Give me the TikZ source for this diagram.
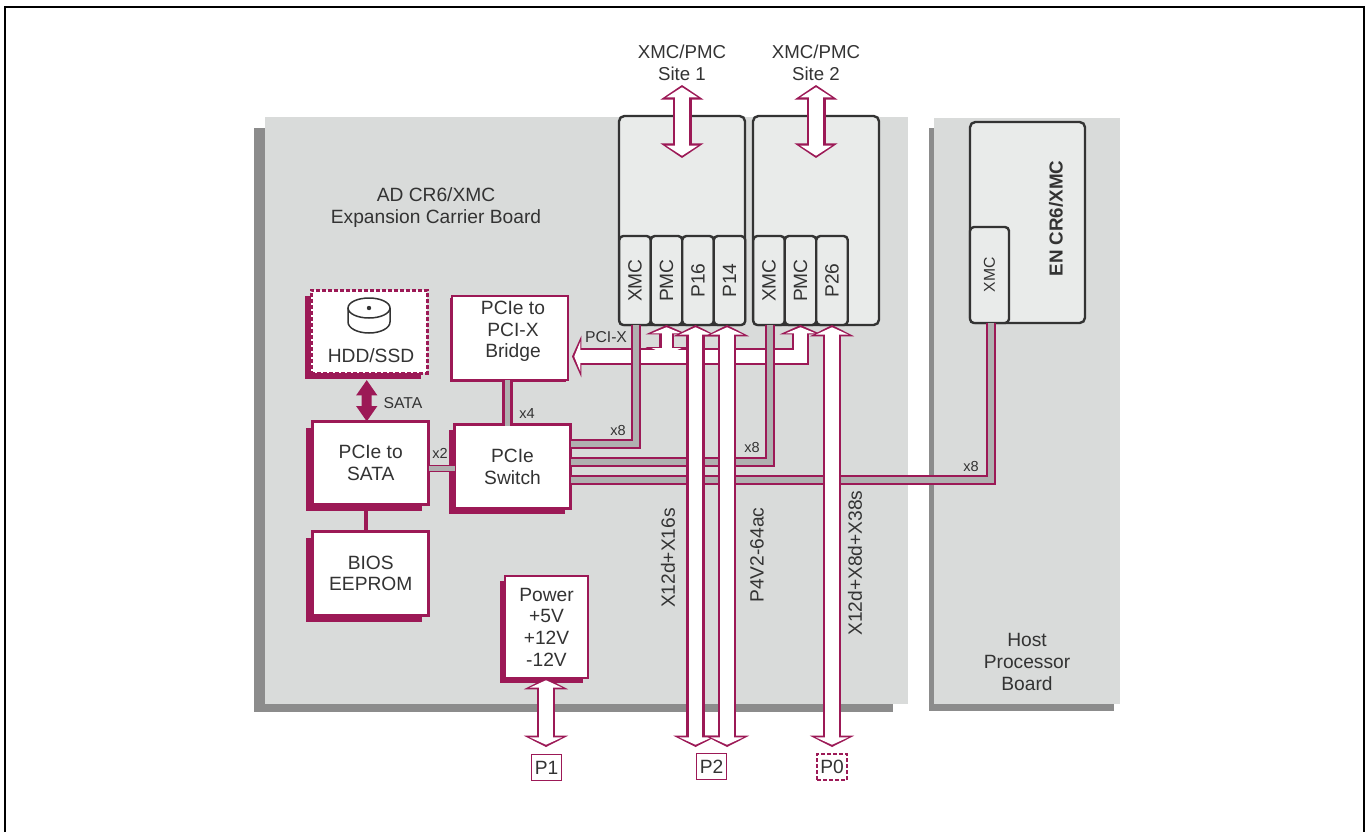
\documentclass[tikz,border=0pt]{standalone}
\usepackage{fontspec}
\setmainfont{Liberation Sans}
\usepackage{xcolor}
\usetikzlibrary{arrows.meta, positioning, shadows}
\definecolor{mag}{HTML}{9C1956}
\definecolor{txt}{HTML}{333333}
\definecolor{boardgray}{HTML}{D9DBDA}
\definecolor{boardshade}{HTML}{8C8C8C}
\definecolor{modgray}{HTML}{E9EBEA}
\definecolor{busgray}{HTML}{B0B0B0}
\newcommand{\px}{*0.75pt}
\newcommand{\mainfont}{\fontsize{14.4}{16.2}\selectfont}
\newcommand{\sitefont}{\fontsize{14}{16.2}\selectfont}
\newcommand{\smallfont}{\fontsize{11.8}{14}\selectfont}
\newcommand{\tinyfont}{\fontsize{10.9}{13}\selectfont}

\begin{document}
\begin{tikzpicture}[
    x=0.75pt, y=-0.75pt,
    every node/.style={text=txt, inner sep=0pt, outer sep=0pt, font=\mainfont, align=center},
    board/.style={fill=boardgray},
    boardback/.style={fill=boardshade},
    module/.style={draw=txt, fill=modgray, line width=2.4\px, rounded corners=4pt},
    conn/.style={draw=txt, fill=modgray, line width=2.4\px, rounded corners=3pt, minimum width=31.5\px, minimum height=89\px},
    block/.style={draw=mag, fill=white, line width=2.6\px, minimum width=116\px, minimum height=83\px},
    hardshadow/.style={drop shadow={shadow xshift=-#1, shadow yshift=-#1, fill=mag, opacity=1}},
    pin/.style={draw=mag, line width=1.5\px, minimum width=30\px, minimum height=26\px},
    bus/.style={draw=mag, line width=2.3\px, double=busgray, double distance=5.6\px},
    thinbus/.style={draw=mag, line width=0.6\px, double=busgray, double distance=5.6\px},
    sitehead/.tip={Triangle[length=11pt, width=32pt]},
    sitein/.tip={Triangle[length=7.5pt, width=23pt]},
    longhead/.tip={Triangle[length=8.5pt, width=33pt]},
    longin/.tip={Triangle[length=5.5pt, width=24pt]},
    treehead/.tip={Triangle[length=7pt, width=31pt]},
    treein/.tip={Triangle[length=4.5pt, width=22pt]},
    siteflow/.style={draw=mag, line width=19\px, arrows={sitehead}-{sitehead},
        postaction={draw=white, line width=14\px, shorten >=1.7pt, shorten <=1.7pt, arrows={sitein}-{sitein}}},
    longflow/.style={draw=mag, line width=18.5\px, arrows={longhead}-{longhead},
        postaction={draw=white, line width=13.5\px, shorten >=1.7pt, shorten <=1.7pt, arrows={longin}-{longin}}},
    treeout/.style={draw=mag, line width=#1\px, arrows={treehead}-{treehead}},
    treefill/.style={draw=white, line width=#1\px, shorten >=1.7pt, shorten <=1.7pt, arrows={treein}-{treein}},
    satalink/.style={draw=mag, fill=mag, line width=10\px, arrows={Triangle[length=11.5pt, width=15pt]}-{Triangle[length=11.5pt, width=15pt]}}
]
    % Frame
    \useasboundingbox (0,0) rectangle (1369,832);
    \draw[black, line width=2\px] (5,832) -- (5,7) -- (1364,7) -- (1364,832);

    % Boards
    \node[boardback, minimum width=639\px, minimum height=584\px] (adback) at (573.5,420) {};
    \node[board, minimum width=643\px, minimum height=587\px] (adboard) at (586.5,410.5) {};
    \node[boardback, minimum width=185\px, minimum height=583\px] (hostback) at (1021.5,419.5) {};
    \node[board, minimum width=186\px, minimum height=586\px] (hostboard) at (1027,411) {};
    \node (adlabel) at (436,207.5) {AD CR6/XMC\\Expansion Carrier Board};
    \node (hostlabel) at (1027,662) {Host\\Processor\\Board};

    % Modules
    \node[module, minimum width=126\px, minimum height=209\px] (sitea) at (682,220.5) {};
    \node[module, minimum width=126\px, minimum height=209\px] (siteb) at (816,220.5) {};
    \node[module, minimum width=115\px, minimum height=201\px] (enmod) at (1027.5,222.5) {};
    \node[font=\bfseries\fontsize{14.1}{16}\selectfont] (enlabel) at (1056,218.5) {\rotatebox{90}{EN CR6/XMC}};

    % Connectors
    \node[conn] (xmca) at (635,280.5) {\rotatebox{90}{XMC}};
    \node[conn, right=0pt of xmca] (pmca) {\rotatebox{90}{PMC}};
    \node[conn, right=0pt of pmca] (pa) {\rotatebox{90}{P16}};
    \node[conn, right=0pt of pa] (pb) {\rotatebox{90}{P14}};
    \node[conn] (xmcb) at (769,280.5) {\rotatebox{90}{XMC}};
    \node[conn, right=0pt of xmcb] (pmcb) {\rotatebox{90}{PMC}};
    \node[conn, right=0pt of pmcb] (pc) {\rotatebox{90}{P26}};
    \node[conn, minimum width=39\px, minimum height=96\px, font=\smallfont] (xmcc) at (989.5,275) {\rotatebox{90}{XMC}};

    % Blocks
    \node[block, hardshadow=4.5pt, line width=3\px, dash pattern=on 4\px off 2\px] (hdd) at (369,331.5) {};
    \node (hddlabel) at (371,356) {HDD/SSD};
    \node[block, hardshadow=5pt, below=48.5\px of hdd, xshift=1.75\px] (sata) {PCIe to\\SATA};
    \node[block, hardshadow=5pt, below=27\px of sata, minimum height=84\px] (bios) {BIOS\\EEPROM};
    \node[block, hardshadow=4pt, minimum height=84\px] (switch) at (512.5,466.7) {PCIe\\Switch};
    \node[block, hardshadow=1.2pt, minimum height=84\px] (bridge) at (510,338) {};
    \node (bridgelabel) at (513,331.5) {PCIe to\\PCI-X\\Bridge};
    \node[block, hardshadow=3.5pt, minimum width=83\px, minimum height=102\px] (power) at (546.5,627) {Power\\+5V\\+12V\\-12V};

    % Disk
    \draw[txt, line width=1.5\px] (369,308) ellipse [x radius=21, y radius=10];
    \draw[txt, line width=1.5\px] (348,308) -- (348,322) arc [start angle=180, end angle=0, x radius=21, y radius=11] -- (390,308);
    \fill[txt] (369,308) circle [radius=2.2];

    % Pins
    \node[pin] (pone) at (546.5,767.5) {P1};
    \node[pin] (ptwo) at (711.5,766.5) {P2};
    \node[pin, dash pattern=on 4\px off 2\px] (pzero) at (832,767) {P0};

    % Ends
    \coordinate (pcixtip) at (572,356.5);
    \coordinate (sitetopa) at (682,85);
    \coordinate (sitebota) at (682,158);
    \coordinate (sitetopb) at (816,85);
    \coordinate (sitebotb) at (816,158);
    \coordinate (paend) at (695.5,747);
    \coordinate (pbend) at (727,747);
    \coordinate (pcend) at (832,747);
    \coordinate (powerend) at (546,747);

    % PCI-X tree
    \draw[treeout=17.5] (pmcb.south) |- (pcixtip);
    \draw[treeout=15] (pmca.south) -- (pmca.south |- pcixtip);
    \draw[treefill=12.5] (pmcb.south) |- (pcixtip);
    \draw[treefill=10] (pmca.south) -- (pmca.south |- pcixtip);

    % Buses
    \draw[bus] ([xshift=0.75pt]xmca.south) |- ([yshift=17pt]switch.east);
    \draw[bus] ([xshift=0.75pt]xmcb.south) |- ([yshift=3.5pt]switch.east);
    \draw[bus] ([xshift=1pt]xmcc.south) |- ([yshift=-10pt]switch.east);
    \draw[bus] (bridge.south -| switch.north) ++(-3.75pt,0) -- ++(0,46);
    \draw[thinbus] (sata.east |- 0,468.5) -- (switch.west |- 0,468.5);
    \draw[mag, line width=4\px] (sata.south) ++(-3.5pt,0) -- ([xshift=-3.5pt]bios.north);
    \draw[satalink] ([xshift=-1.7pt,yshift=-5.2pt]hdd.south) -- ([xshift=-3pt]sata.north);

    % Hollow arrows
    \draw[siteflow] (sitetopa) -- (sitebota);
    \draw[siteflow] (sitetopb) -- (sitebotb);
    \draw[longflow] (pa.south -| paend) -- (paend);
    \draw[longflow] (pb.south -| pbend) -- (pbend);
    \draw[longflow] (pc.south -| pcend) -- (pcend);
    \draw[longflow] (power.south -| powerend) -- (powerend);

    % Labels
    \node[font=\sitefont] (sitelabela) at (682,63) {XMC/PMC\\Site 1};
    \node[font=\sitefont] (sitelabelb) at (816,63) {XMC/PMC\\Site 2};
    \node[font=\smallfont] (pcix) at (606,337) {PCI-X};
    \node[font=\smallfont] (satatxt) at (403,403) {SATA};
    \node[font=\tinyfont] (xa) at (618,430) {x8};
    \node[font=\tinyfont] (xb) at (752,447) {x8};
    \node[font=\tinyfont] (xc) at (971,466) {x8};
    \node[font=\tinyfont] (xd) at (527,413) {x4};
    \node[font=\tinyfont] (xe) at (440,453) {x2};
    \node (flowa) at (668,558) {\rotatebox{90}{X12d+X16s}};
    \node (flowb) at (757,555) {\rotatebox{90}{P4V2-64ac}};
    \node (flowc) at (855,563) {\rotatebox{90}{X12d+X8d+X38s}};
\end{tikzpicture}
\end{document}
